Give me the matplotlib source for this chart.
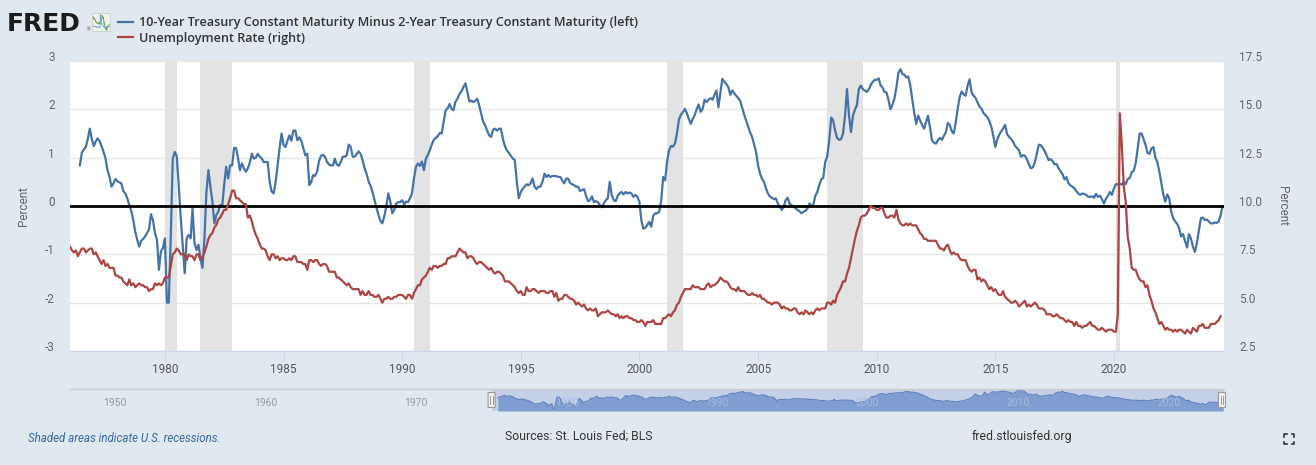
import numpy as np
import pandas as pd
import matplotlib
matplotlib.use("Agg")
import matplotlib.pyplot as plt
import matplotlib.dates as mdates
import matplotlib.transforms as mtrans
from matplotlib.patches import FancyBboxPatch
from matplotlib.lines import Line2D

# ---------------- data ----------------
spread_start = "1976-06-01"
spread_values = [
    # 1976 (Jun-Dec)
    0.84, 1.10, 1.17, 1.22, 1.39, 1.60, 1.39,
    # 1977
    1.24, 1.34, 1.40, 1.34, 1.24, 1.12, 0.98, 0.74, 0.60, 0.40, 0.47, 0.56,
    # 1978
    0.51, 0.49, 0.47, 0.31, 0.26, 0.16, 0.02, -0.10, -0.29, -0.53, -0.70, -0.84,
    # 1979
    -0.72, -0.68, -0.63, -0.56, -0.49, -0.17, -0.29, -0.56, -0.70, -1.32, -0.94, -0.87,
    # 1980
    -0.67, -2.00, -2.00, -0.60, 0.98, 1.12, 1.03, 0.43, -0.25, -0.80, -1.39, -0.67,
    # 1981
    -0.60, -0.67, -0.05, -0.77, -0.91, -0.80, -1.08, -1.28, -0.67, 0.29, 0.74, 0.40,
    # 1982
    0.09, -0.36, -0.19, -0.12, 0.02, 0.00, 0.43, 0.81, 0.57, 0.84, 0.84, 1.20,
    # 1983
    1.20, 0.98, 0.74, 0.88, 0.78, 0.71, 0.78, 0.90, 1.08, 0.98, 1.00, 1.08,
    # 1984
    1.02, 0.98, 0.91, 0.91, 0.91, 0.50, 0.30, 0.26, 0.50, 0.84, 1.20, 1.50,
    # 1985
    1.26, 1.22, 1.35, 1.46, 1.35, 1.56, 1.56, 1.36, 1.42, 1.35, 1.20, 1.05,
    # 1986
    1.08, 0.43, 0.49, 0.64, 0.62, 0.71, 0.93, 1.04, 1.06, 1.02, 0.91, 0.86,
    # 1987
    0.84, 0.84, 0.98, 0.86, 0.83, 0.91, 1.02, 1.02, 1.05, 1.27, 1.22, 1.02,
    # 1988
    1.02, 1.08, 1.13, 1.08, 0.95, 0.78, 0.67, 0.51, 0.42, 0.29, 0.12, -0.03,
    # 1989
    -0.19, -0.31, -0.36, -0.21, -0.01, 0.26, 0.10, -0.15, -0.08, 0.05, 0.08, 0.08,
    # 1990
    0.12, 0.03, 0.09, 0.08, 0.16, 0.26, 0.57, 0.81, 0.88, 0.83, 0.92, 0.74,
    # 1991
    0.98, 1.06, 1.15, 1.27, 1.37, 1.41, 1.44, 1.51, 1.50, 1.74, 1.98, 2.02,
    # 1992
    2.11, 2.01, 1.98, 2.16, 2.22, 2.32, 2.37, 2.46, 2.54, 2.35, 2.16, 2.18,
    # 1993
    2.15, 2.18, 2.22, 2.08, 1.91, 1.74, 1.67, 1.56, 1.46, 1.43, 1.58, 1.60,
    # 1994
    1.56, 1.60, 1.60, 1.39, 1.24, 1.15, 1.10, 1.04, 0.98, 0.95, 0.50, 0.16,
    # 1995
    0.29, 0.36, 0.40, 0.45, 0.43, 0.47, 0.57, 0.40, 0.35, 0.40, 0.40, 0.50,
    # 1996
    0.67, 0.60, 0.64, 0.60, 0.62, 0.62, 0.62, 0.60, 0.60, 0.53, 0.47, 0.57,
    # 1997
    0.56, 0.47, 0.45, 0.43, 0.40, 0.40, 0.31, 0.33, 0.35, 0.21, 0.10, 0.12,
    # 1998
    0.20, 0.08, 0.10, 0.08, 0.02, -0.03, 0.05, 0.12, 0.16, 0.50, 0.23, 0.12,
    # 1999
    0.10, 0.21, 0.26, 0.29, 0.24, 0.29, 0.26, 0.28, 0.26, 0.19, 0.23, 0.19,
    # 2000
    0.09, -0.30, -0.47, -0.45, -0.39, -0.33, -0.43, -0.20, -0.15, -0.15, -0.12, 0.10,
    # 2001
    0.60, 0.53, 0.91, 1.15, 1.24, 1.23, 1.29, 1.50, 1.79, 1.89, 1.94, 2.01,
    # 2002
    1.92, 1.80, 1.70, 1.80, 1.88, 2.00, 2.10, 1.95, 2.01, 2.20, 2.15, 2.20,
    # 2003
    2.23, 2.20, 2.30, 2.39, 2.04, 2.35, 2.63, 2.57, 2.52, 2.46, 2.30, 2.39,
    # 2004
    2.33, 2.28, 2.23, 2.18, 2.04, 1.89, 1.77, 1.65, 1.52, 1.43, 1.27, 1.12,
    # 2005
    0.84, 0.67, 0.57, 0.50, 0.37, 0.26, 0.20, 0.17, 0.14, 0.16, 0.05, -0.01,
    # 2006
    -0.08, -0.01, 0.12, 0.17, 0.05, 0.02, -0.01, -0.05, -0.08, -0.11, -0.15, -0.12,
    # 2007
    -0.10, -0.05, 0.05, 0.01, 0.02, 0.21, 0.29, 0.43, 0.55, 0.58, 0.91, 1.02,
    # 2008
    1.36, 1.83, 1.77, 1.56, 1.41, 1.37, 1.38, 1.50, 1.87, 2.42, 1.87, 1.53,
    # 2009
    1.87, 2.00, 2.08, 2.42, 2.49, 2.42, 2.39, 2.36, 2.41, 2.50, 2.57, 2.61,
    # 2010
    2.61, 2.64, 2.50, 2.45, 2.36, 2.35, 2.20, 2.00, 2.10, 2.22, 2.46, 2.75,
    # 2011
    2.83, 2.73, 2.72, 2.66, 2.68, 2.51, 2.22, 1.94, 1.70, 1.87, 1.77, 1.68,
    # 2012
    1.60, 1.74, 1.87, 1.63, 1.36, 1.31, 1.29, 1.36, 1.41, 1.37, 1.45, 1.53,
    # 2013
    1.72, 1.67, 1.55, 1.50, 1.72, 2.01, 2.25, 2.37, 2.31, 2.28, 2.49, 2.62,
    # 2014
    2.35, 2.28, 2.24, 2.15, 2.06, 2.02, 1.93, 1.88, 1.84, 1.76, 1.64, 1.46,
    # 2015
    1.22, 1.38, 1.47, 1.54, 1.60, 1.68, 1.49, 1.43, 1.39, 1.33, 1.24, 1.20,
    # 2016
    1.15, 1.02, 1.05, 1.04, 0.97, 0.86, 0.78, 0.80, 0.90, 1.08, 1.27, 1.26,
    # 2017
    1.20, 1.13, 1.05, 0.95, 0.97, 0.93, 0.86, 0.87, 0.78, 0.72, 0.66, 0.55,
    # 2018
    0.60, 0.47, 0.43, 0.40, 0.37, 0.31, 0.26, 0.23, 0.26, 0.25, 0.23, 0.19,
    # 2019
    0.19, 0.20, 0.17, 0.25, 0.19, 0.21, 0.14, 0.05, 0.15, 0.21, 0.29, 0.23,
    # 2020
    0.36, 0.45, 0.45, 0.46, 0.44, 0.50, 0.45, 0.56, 0.58, 0.70, 0.73, 0.88,
    # 2021
    1.19, 1.50, 1.50, 1.39, 1.27, 1.10, 1.08, 1.19, 1.22, 1.00, 0.90, 0.71,
    # 2022
    0.47, 0.23, 0.09, 0.24, 0.16, -0.12, -0.25, -0.32, -0.37, -0.46, -0.63, -0.58,
    # 2023
    -0.73, -0.86, -0.58, -0.67, -0.84, -0.95, -0.77, -0.51, -0.25, -0.24, -0.29, -0.28,
    # 2024 (Jan-Aug)
    -0.32, -0.36, -0.36, -0.34, -0.35, -0.32, -0.19, 0.00,
]

unrate_start = "1976-01-01"
unrate_values = [
    # 1976
    7.9, 7.7, 7.6, 7.7, 7.4, 7.6, 7.8, 7.8, 7.6, 7.7, 7.8, 7.8,
    # 1977
    7.5, 7.6, 7.4, 7.2, 7.0, 7.2, 6.9, 7.0, 6.8, 6.8, 6.8, 6.4,
    # 1978
    6.4, 6.3, 6.3, 6.1, 6.0, 5.9, 6.2, 5.9, 6.0, 5.8, 5.9, 6.0,
    # 1979
    5.9, 5.9, 5.8, 5.8, 5.6, 5.7, 5.7, 6.0, 5.9, 6.0, 5.9, 6.0,
    # 1980
    6.3, 6.3, 6.3, 6.9, 7.5, 7.6, 7.8, 7.7, 7.5, 7.5, 7.5, 7.2,
    # 1981
    7.5, 7.4, 7.4, 7.2, 7.5, 7.5, 7.2, 7.4, 7.6, 7.9, 8.3, 8.5,
    # 1982
    8.6, 8.9, 9.0, 9.3, 9.4, 9.6, 9.8, 9.8, 10.1, 10.4, 10.8, 10.8,
    # 1983
    10.4, 10.4, 10.3, 10.2, 10.1, 10.1, 9.4, 9.5, 9.2, 8.8, 8.5, 8.3,
    # 1984
    8.0, 7.8, 7.8, 7.7, 7.4, 7.2, 7.5, 7.5, 7.3, 7.4, 7.2, 7.3,
    # 1985
    7.3, 7.2, 7.2, 7.3, 7.2, 7.4, 7.4, 7.1, 7.1, 7.1, 7.0, 7.0,
    # 1986
    6.7, 7.2, 7.2, 7.1, 7.2, 7.2, 7.0, 6.9, 7.0, 7.0, 6.9, 6.6,
    # 1987
    6.6, 6.6, 6.6, 6.3, 6.3, 6.2, 6.1, 6.0, 5.9, 6.0, 5.8, 5.7,
    # 1988
    5.7, 5.7, 5.7, 5.4, 5.6, 5.4, 5.4, 5.6, 5.4, 5.4, 5.3, 5.3,
    # 1989
    5.4, 5.2, 5.0, 5.2, 5.2, 5.3, 5.2, 5.2, 5.3, 5.3, 5.4, 5.4,
    # 1990
    5.4, 5.3, 5.2, 5.4, 5.4, 5.2, 5.5, 5.7, 5.9, 5.9, 6.2, 6.3,
    # 1991
    6.4, 6.6, 6.8, 6.7, 6.9, 6.9, 6.8, 6.9, 6.9, 7.0, 7.0, 7.3,
    # 1992
    7.3, 7.4, 7.4, 7.4, 7.6, 7.8, 7.7, 7.6, 7.6, 7.3, 7.4, 7.4,
    # 1993
    7.3, 7.1, 7.0, 7.1, 7.1, 7.0, 6.9, 6.8, 6.7, 6.8, 6.6, 6.5,
    # 1994
    6.6, 6.6, 6.5, 6.4, 6.1, 6.1, 6.1, 6.0, 5.9, 5.8, 5.6, 5.5,
    # 1995
    5.6, 5.4, 5.4, 5.8, 5.6, 5.6, 5.7, 5.7, 5.6, 5.5, 5.6, 5.6,
    # 1996
    5.6, 5.5, 5.5, 5.6, 5.6, 5.3, 5.5, 5.1, 5.2, 5.2, 5.4, 5.4,
    # 1997
    5.3, 5.2, 5.2, 5.1, 4.9, 5.0, 4.9, 4.8, 4.9, 4.7, 4.6, 4.7,
    # 1998
    4.6, 4.6, 4.7, 4.3, 4.4, 4.5, 4.5, 4.5, 4.6, 4.5, 4.4, 4.4,
    # 1999
    4.3, 4.4, 4.2, 4.3, 4.2, 4.3, 4.3, 4.2, 4.2, 4.1, 4.1, 4.0,
    # 2000
    4.0, 4.1, 4.0, 3.8, 4.0, 4.0, 4.0, 4.1, 3.9, 3.9, 3.9, 3.9,
    # 2001
    4.2, 4.2, 4.3, 4.4, 4.3, 4.5, 4.6, 4.9, 5.0, 5.3, 5.5, 5.7,
    # 2002
    5.7, 5.7, 5.7, 5.9, 5.8, 5.8, 5.8, 5.7, 5.7, 5.7, 5.9, 6.0,
    # 2003
    5.8, 5.9, 5.9, 6.0, 6.1, 6.3, 6.2, 6.1, 6.1, 6.0, 5.8, 5.7,
    # 2004
    5.7, 5.6, 5.8, 5.6, 5.6, 5.6, 5.5, 5.4, 5.4, 5.5, 5.4, 5.4,
    # 2005
    5.3, 5.4, 5.2, 5.2, 5.1, 5.0, 5.0, 4.9, 5.0, 5.0, 5.0, 4.9,
    # 2006
    4.7, 4.8, 4.7, 4.7, 4.6, 4.6, 4.7, 4.7, 4.5, 4.4, 4.5, 4.4,
    # 2007
    4.6, 4.5, 4.4, 4.5, 4.4, 4.6, 4.7, 4.6, 4.7, 4.7, 4.7, 5.0,
    # 2008
    5.0, 4.9, 5.1, 5.0, 5.4, 5.6, 5.8, 6.1, 6.1, 6.5, 6.8, 7.3,
    # 2009
    7.8, 8.3, 8.7, 9.0, 9.4, 9.5, 9.5, 9.6, 9.8, 10.0, 9.9, 9.9,
    # 2010
    9.8, 9.8, 9.9, 9.9, 9.6, 9.4, 9.4, 9.5, 9.5, 9.4, 9.8, 9.3,
    # 2011
    9.1, 9.0, 9.0, 9.1, 9.0, 9.1, 9.0, 9.0, 9.0, 8.8, 8.6, 8.5,
    # 2012
    8.3, 8.3, 8.2, 8.2, 8.2, 8.2, 8.2, 8.0, 7.8, 7.8, 7.7, 7.9,
    # 2013
    8.0, 7.7, 7.5, 7.6, 7.5, 7.5, 7.3, 7.2, 7.2, 7.2, 6.9, 6.7,
    # 2014
    6.6, 6.7, 6.7, 6.2, 6.3, 6.1, 6.2, 6.1, 5.9, 5.7, 5.8, 5.6,
    # 2015
    5.7, 5.5, 5.4, 5.4, 5.6, 5.3, 5.2, 5.1, 5.0, 5.0, 5.1, 5.0,
    # 2016
    4.8, 4.9, 5.0, 5.1, 4.8, 4.9, 4.8, 4.9, 5.0, 4.9, 4.7, 4.7,
    # 2017
    4.7, 4.6, 4.4, 4.4, 4.4, 4.3, 4.3, 4.4, 4.3, 4.2, 4.2, 4.1,
    # 2018
    4.0, 4.1, 4.0, 4.0, 3.8, 4.0, 3.8, 3.8, 3.7, 3.8, 3.8, 3.9,
    # 2019
    4.0, 3.8, 3.8, 3.7, 3.6, 3.6, 3.7, 3.6, 3.5, 3.6, 3.6, 3.6,
    # 2020
    3.5, 3.5, 4.4, 14.8, 13.2, 11.0, 10.2, 8.4, 7.8, 6.8, 6.7, 6.7,
    # 2021
    6.4, 6.2, 6.1, 6.1, 5.8, 5.9, 5.4, 5.1, 4.7, 4.5, 4.2, 3.9,
    # 2022
    4.0, 3.8, 3.6, 3.7, 3.6, 3.6, 3.5, 3.6, 3.5, 3.6, 3.6, 3.5,
    # 2023
    3.4, 3.6, 3.5, 3.4, 3.7, 3.6, 3.5, 3.8, 3.8, 3.9, 3.7, 3.7,
    # 2024 (Jan-Jul)
    3.7, 3.9, 3.9, 3.9, 4.0, 4.1, 4.3,
]

recession_starts = ["1980-01-01", "1981-07-01", "1990-07-01", "2001-03-01", "2007-12-01", "2020-02-01"]
recession_ends = ["1980-07-01", "1982-11-01", "1991-03-01", "2001-11-01", "2009-06-01", "2020-04-01"]

left_ticks = [-3, -2, -1, 0, 1, 2, 3]
right_ticks = [2.5, 5.0, 7.5, 10.0, 12.5, 15.0, 17.5]
x_tick_years = [1980, 1985, 1990, 1995, 2000, 2005, 2010, 2015, 2020]
nav_tick_years = [1950, 1960, 1970, 1980, 1990, 2000, 2010, 2020]

series1_label = "10-Year Treasury Constant Maturity Minus 2-Year Treasury Constant Maturity (left)"
series2_label = "Unemployment Rate (right)"

# ---------------- style ----------------
W, H = 1316, 465
BG = "#e1e9f0"
BLUE = "#4572a7"
RED = "#aa4643"
TICK_FONT = ["Liberation Sans Narrow", "Roboto", "DejaVu Sans"]
LEGEND_FONT = ["Open Sans", "DejaVu Sans"]

spread_dates = pd.date_range(spread_start, periods=len(spread_values), freq="MS")
unrate_dates = pd.date_range(unrate_start, periods=len(unrate_values), freq="MS")

fig = plt.figure(figsize=(W / 100, H / 100), dpi=100)
fig.patch.set_facecolor(BG)


def fx(px):
    return px / W


def fy(py):
    return 1 - py / H


x_min = pd.Timestamp("1976-01-01")
x_max = pd.Timestamp("2024-08-22")

# ---------------- main axes ----------------
ax = fig.add_axes([fx(70), fy(351), fx(1224) - fx(70), fy(61) - fy(351)])
ax.set_facecolor("white")
ax.set_xlim(x_min, x_max)
ax.set_ylim(-3, 3)
ax.set_yticks(left_ticks)
ax.set_yticklabels([f"{t:d}" for t in left_ticks])
ax.grid(axis="y", color="#e6e6e6", lw=1)
ax.set_axisbelow(True)

for s, e in zip(recession_starts, recession_ends):
    ax.axvspan(pd.Timestamp(s), pd.Timestamp(e), color="#e3e3e3", lw=0, zorder=0.7)

blue_line, = ax.plot(spread_dates, spread_values, color=BLUE, lw=1.6, zorder=2,
                     solid_joinstyle="round")
ax.axhline(0, color="black", lw=2.0, zorder=3)

ax2 = ax.twinx()
ax2.set_ylim(2.5, 17.5)
ax2.set_yticks(right_ticks)
ax2.set_yticklabels([f"{t:.1f}" for t in right_ticks])
red_line, = ax2.plot(unrate_dates, unrate_values, color=RED, lw=1.6, zorder=2,
                     solid_joinstyle="round")

for a in (ax, ax2):
    for side in ("top", "left", "right"):
        a.spines[side].set_visible(False)
ax2.spines["bottom"].set_visible(False)
ax.spines["bottom"].set_color("#ccd6eb")
ax.spines["bottom"].set_linewidth(1)

ax.set_xticks([pd.Timestamp(f"{y}-01-01") for y in x_tick_years])
ax.xaxis.set_major_formatter(mdates.DateFormatter("%Y"))
ax.tick_params(axis="x", length=7, width=0.8, color="#ccd6eb", pad=1.5,
               labelsize=8.5, labelcolor="#555555")
ax.tick_params(axis="y", length=0, pad=11, labelsize=8.5, labelcolor="#666666")
ax2.tick_params(axis="y", length=0, pad=11, labelsize=8.5, labelcolor="#666666")

for lab in ax.get_xticklabels() + ax.get_yticklabels() + ax2.get_yticklabels():
    lab.set_fontfamily(TICK_FONT)
for lab in ax.get_yticklabels() + ax2.get_yticklabels():
    lab.set_verticalalignment("baseline")

ax.set_ylabel("Percent", fontsize=8.5, color="#666666", family=TICK_FONT, labelpad=11)
ax2.set_ylabel("Percent", fontsize=8.5, color="#666666", family=TICK_FONT,
               rotation=270, labelpad=19)

# ---------------- legend & logo ----------------
fig.legend(handles=[blue_line, red_line], labels=[series1_label, series2_label],
           loc="upper left", bbox_to_anchor=(fx(113), fy(11)), frameon=False,
           handlelength=1.2, handletextpad=0.45, labelspacing=0.22,
           prop={"family": LEGEND_FONT, "size": 9.1, "weight": "semibold"},
           labelcolor="#333333", borderaxespad=0)

fig.text(fx(7), fy(31), "FRED", fontsize=18, fontweight="heavy", family="DejaVu Sans",
         color="#1b1b1b", va="baseline", ha="left")
fig.text(fx(85), fy(31), "\u00ae", fontsize=4, color="#555555", va="baseline", ha="left")

icon = fig.add_axes([fx(92), fy(31), fx(18), fy(13) - fy(31)])
icon.set_facecolor("#eef3ee")
icon.plot(spread_dates[-96:], spread_values[-96:], color="#6aa84f", lw=0.7)
icon.plot(unrate_dates[-96:], np.array(unrate_values[-96:]) / 5 - 1.2, color="#7fa6d6", lw=0.7)
icon.set_xticks([]); icon.set_yticks([])
for s in icon.spines.values():
    s.set_color("#c8d2c8"); s.set_linewidth(0.6)

# ---------------- navigator ----------------
nav_top, nav_bot = 389, 411
nav = fig.add_axes([fx(70), fy(nav_bot), fx(1224) - fx(70), fy(nav_top) - fy(nav_bot)])
nav.set_xlim(pd.Timestamp("1948-01-01"), x_max)
nav_lo, nav_hi = -2.6, 3.2
nav.set_ylim(nav_lo, nav_hi)
nav.patch.set_visible(False)
for s in nav.spines.values():
    s.set_visible(False)
nav.set_xticks([]); nav.set_yticks([])
nav.axvspan(x_min, x_max, color="#c3d0e8", lw=0, zorder=1)
nav.fill_between(spread_dates, spread_values, nav_lo, color="#7f9dd1", lw=0, zorder=2)
nav.plot(spread_dates, spread_values, color="#5f80bd", lw=0.8, zorder=3)
nav.axhline(nav_hi, color="#cccccc", lw=1, zorder=4, clip_on=False)

nav_lab_tr = mtrans.blended_transform_factory(
    mtrans.offset_copy(nav.transData, fig=fig, x=3, y=0, units="dots"), nav.transAxes)
for yr in nav_tick_years:
    col = "#9a9a9a" if yr < 1976 else "#a8bade"
    nav.text(pd.Timestamp(f"{yr}-01-01"), 0.38, str(yr), transform=nav_lab_tr,
             fontsize=7.5, color=col, family=TICK_FONT, ha="left", va="center", zorder=5)

# handles of the range selector
fig.canvas.draw()
for d in (x_min, x_max):
    px = nav.transData.transform((mdates.date2num(d), 0))[0]
    if d == x_max:
        px -= 2
    hw, hh = 7, 15
    hy = (nav_top + nav_bot) / 2
    rect = FancyBboxPatch((fx(px - hw / 2), fy(hy + hh / 2)), fx(hw), fy(hy - hh / 2) - fy(hy + hh / 2),
                          boxstyle="round,pad=0,rounding_size=0.001", transform=fig.transFigure,
                          facecolor="#f2f2f2", edgecolor="#999999", lw=0.8, zorder=10)
    fig.patches.append(rect)
    for dx in (-1.2, 1.2):
        fig.lines.append(Line2D([fx(px + dx), fx(px + dx)], [fy(hy - 4), fy(hy + 4)],
                                transform=fig.transFigure, color="#999999", lw=0.7, zorder=11))

# ---------------- footer ----------------
fig.text(fx(28), fy(438), "Shaded areas indicate U.S. recessions.", fontsize=8.3, style="italic",
         color="#3a67a3", family=TICK_FONT, va="center", ha="left")
fig.text(fx(505), fy(436), "Sources: St. Louis Fed; BLS", fontsize=8.8, color="#333333",
         family=TICK_FONT, va="center", ha="left")
fig.text(fx(972), fy(436), "fred.stlouisfed.org", fontsize=8.8, color="#333333",
         family=TICK_FONT, va="center", ha="left")

# full-screen icon
cx, cy, r, a = 1289, 439, 5, 2.5
for sx in (-1, 1):
    for sy in (-1, 1):
        fig.lines.append(Line2D([fx(cx + sx * r), fx(cx + sx * r), fx(cx + sx * (r - a))],
                                [fy(cy + sy * (r - a)), fy(cy + sy * r), fy(cy + sy * r)],
                                transform=fig.transFigure, color="#333333", lw=1.2))

fig.savefig("out.png", dpi=100, facecolor=BG)
